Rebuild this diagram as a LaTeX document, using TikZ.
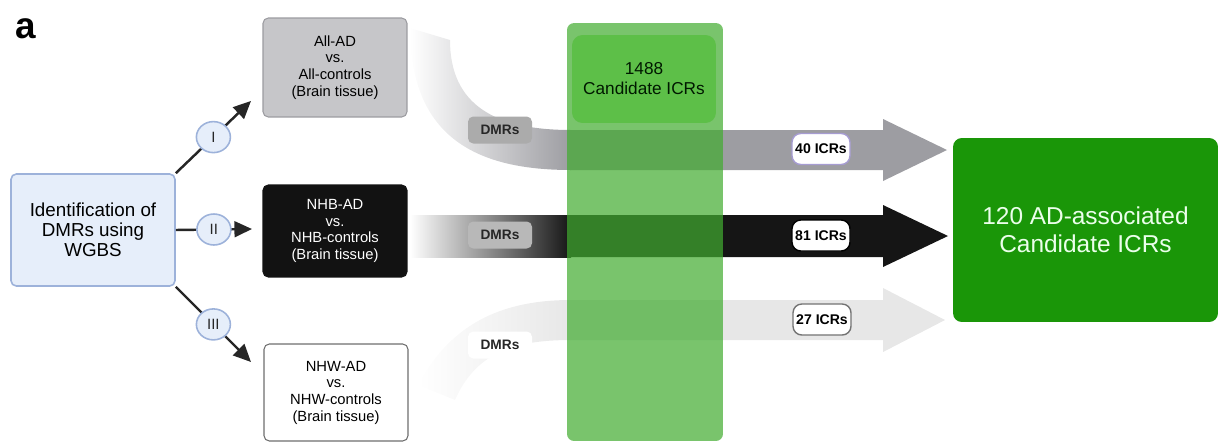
\documentclass[tikz,border=0pt]{standalone}
\usepackage{fontspec}
\setmainfont{Liberation Sans}
\usetikzlibrary{arrows.meta,shapes.geometric,positioning,calc}
\definecolor{srcfill}{HTML}{E6EEFA}
\definecolor{srcline}{HTML}{9DB2DA}
\definecolor{allfill}{HTML}{C6C6C9}
\definecolor{allline}{HTML}{9B9BA0}
\definecolor{nhbfill}{HTML}{121212}
\definecolor{nhwline}{HTML}{6E6E6E}
\definecolor{bandall}{HTML}{9D9DA2}
\definecolor{bandnhb}{HTML}{151515}
\definecolor{bandnhw}{HTML}{E7E7E7}
\definecolor{colgreen}{HTML}{42AC30}
\definecolor{candgreen}{HTML}{5DBF48}
\definecolor{resgreen}{HTML}{1A9608}
\definecolor{tagline}{HTML}{A69CD2}
\tikzset{
    srcbox/.style = {rectangle,
                    rounded corners=3pt,
                    fill=srcfill,
                    draw=srcline,
                    line width=0.9pt,
                    align=center,
                    minimum width=3.28cm,
                    minimum height=2.24cm,
                    font=\fontsize{10.7}{11.5}\selectfont},
    cmpbox/.style = {rectangle,
                    rounded corners=3pt,
                    line width=0.6pt,
                    align=center,
                    minimum width=2.88cm,
                    font=\fontsize{8.4}{9.5}\selectfont},
    numcirc/.style = {ellipse,
                    fill=srcfill,
                    draw=srcline,
                    line width=0.9pt,
                    inner sep=0pt,
                    minimum width=0.68cm,
                    minimum height=0.62cm,
                    font=\fontsize{8.5}{9}\selectfont},
    dmrtag/.style = {rectangle,
                    rounded corners=3pt,
                    minimum width=1.28cm,
                    minimum height=0.54cm,
                    text=black!85,
                    font=\bfseries\fontsize{7.8}{9}\selectfont},
    icrtag/.style = {rectangle,
                    rounded corners=5pt,
                    fill=white,
                    line width=0.8pt,
                    inner sep=1pt,
                    minimum width=1.16cm,
                    minimum height=0.62cm,
                    font=\bfseries\fontsize{8}{9}\selectfont},
    link/.style = {line width=1.4pt,
                    black!85,
                    -{Triangle[length=10pt,width=9pt]}}
}
\begin{document}
\begin{tikzpicture}[x=0.02cm, y=-0.02cm]
    \useasboundingbox (0,0) rectangle (1219,443);
    \node[font=\bfseries\fontsize{21}{21}\selectfont] (panel) at (26,29) {a};
    \node[srcbox] (src) at (93,230) {Identification of\\DMRs using\\WGBS};
    \node[cmpbox, fill=allfill, draw=allline, minimum height=1.98cm] (all) at (335,67.5) {All-AD\\vs.\\All-controls\\(Brain tissue)};
    \node[cmpbox, fill=nhbfill, draw=nhbfill, text=white, minimum height=1.84cm] (nhb) at (335,231) {NHB-AD\\vs.\\NHB-controls\\(Brain tissue)};
    \node[cmpbox, fill=white, draw=nhwline, minimum height=1.94cm] (nhw) at (336,392.5) {NHW-AD\\vs.\\NHW-controls\\(Brain tissue)};
    \coordinate (tipI) at (251,101);
    \coordinate (tipII) at (252,229);
    \coordinate (tipIII) at (251,362);
    \draw[link] (src.north east) -- node[numcirc] (numI) {I} (tipI);
    \draw[link] (src.east) -- node[numcirc] (numII) {II} (tipII);
    \draw[link] (src.south east) -- node[numcirc] (numIII) {III} (tipIII);
    \shade[left color=white, right color=bandall] (410,28) .. controls (410,140) and (480,170) .. (571,170) -- (571,130) .. controls (495,130) and (450,105) .. (450,40) -- cycle;
    \fill[bandall] (570,130) -- (883,130) -- (883,119) -- (947,150) -- (883,181) -- (883,170) -- (570,170) -- cycle;
    \shade[left color=white, right color=bandnhb] (410,215) rectangle (571,257);
    \fill[bandnhb] (570,215) -- (883,215) -- (883,205) -- (948,236) -- (883,267) -- (883,257) -- (570,257) -- cycle;
    \shade[left color=white, right color=bandnhw] (418,385) .. controls (450,325) and (500,300) .. (571,300) -- (571,340) .. controls (510,340) and (475,355) .. (455,400) -- cycle;
    \fill[bandnhw] (570,300) -- (883,300) -- (883,288) -- (945,320) -- (883,352) -- (883,340) -- (570,340) -- cycle;
    \node[dmrtag, fill=black!33!white] (dmrAll) at (500,130) {DMRs};
    \node[dmrtag, fill=black!28!white] (dmrNHB) at (500,235) {DMRs};
    \node[dmrtag, fill=white] (dmrNHW) at (500,345) {DMRs};
    \node[rectangle, rounded corners=4pt, fill=colgreen, fill opacity=0.71, inner sep=0pt, minimum width=3.12cm, minimum height=8.36cm] (col) at (645,232) {};
    \node[rectangle, rounded corners=6pt, fill=candgreen, minimum width=2.88cm, minimum height=1.76cm, align=center, text=black!90!green, font=\fontsize{9.8}{11.4}\selectfont] (cand) at (644,79) {1488\\Candidate ICRs};
    \node[icrtag, draw=tagline] (icrAll) at (821,149) {40 ICRs};
    \node[icrtag, draw=black] (icrNHB) at (821,235.5) {81 ICRs};
    \node[icrtag, draw=black!55] (icrNHW) at (822,319.5) {27 ICRs};
    \node[rectangle, rounded corners=5pt, fill=resgreen, minimum width=5.3cm, minimum height=3.68cm, align=center, text=white!92!green, font=\fontsize{13.9}{16}\selectfont] (res) at (1085.5,230) {120 AD-associated\\Candidate ICRs};
\end{tikzpicture}
\end{document}
